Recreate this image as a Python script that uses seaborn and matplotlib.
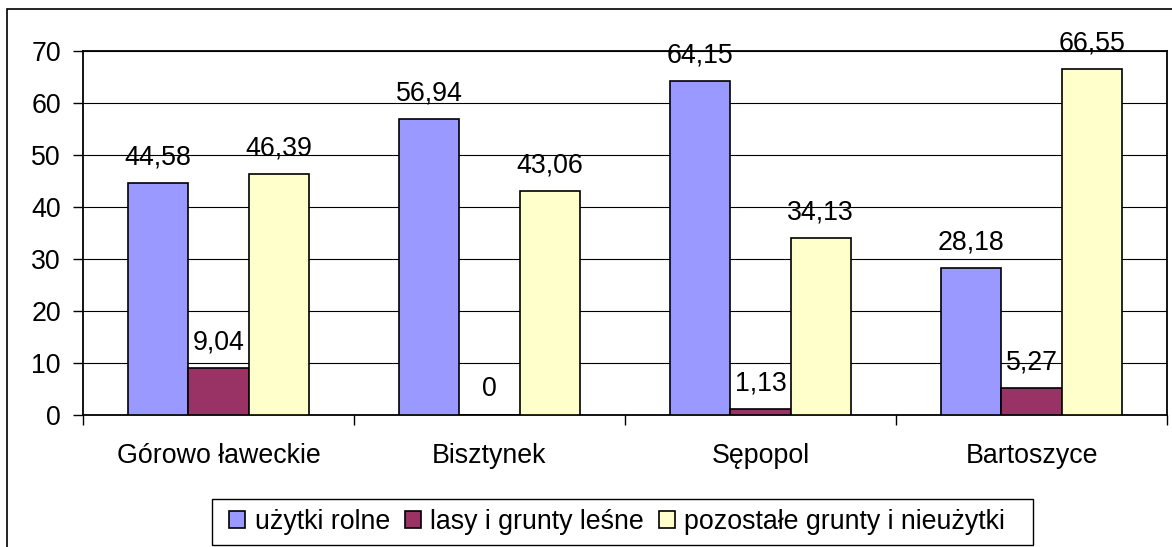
import seaborn as sns
import matplotlib.pyplot as plt
import matplotlib.patches as mpatches
import pandas as pd
import numpy as np

# Data
gminy = ["Górowo ławeckie", "Bisztynek", "Sępopol", "Bartoszyce"]
uzytki_rolne = [44.58, 56.94, 64.15, 28.18]
lasy = [9.04, 0.0, 1.13, 5.27]
pozostale = [46.39, 43.06, 34.13, 66.55]
series = ["użytki rolne", "lasy i grunty leśne", "pozostałe grunty i nieużytki"]
colors = ["#9999FF", "#993366", "#FFFFCC"]

df = pd.DataFrame({
    "gmina": np.tile(gminy, 3),
    "seria": np.repeat(series, len(gminy)),
    "wartosc": uzytki_rolne + lasy + pozostale,
})

# Styling
sns.set_style("white")
plt.rcParams["font.family"] = ["Liberation Sans", "DejaVu Sans"]
plt.rcParams["text.color"] = "black"
plt.rcParams["xtick.color"] = "black"
plt.rcParams["ytick.color"] = "black"
fs = 19.3

W, H = 1172, 547
fig = plt.figure(figsize=(W / 100, H / 100), dpi=100)
ax = fig.add_axes([83 / W, 1 - 415 / H, (1167 - 83) / W, (415 - 51) / H])

sns.barplot(
    data=df, x="gmina", y="wartosc", hue="seria",
    order=gminy, hue_order=series, palette=colors,
    width=2 / 3, gap=0, edgecolor="black", linewidth=1.2,
    saturation=1, ax=ax, legend=False, zorder=3,
)

# Data labels with decimal comma
for cont in ax.containers:
    for bar in cont:
        h = bar.get_height()
        txt = f"{h:.2f}".replace(".", ",") if h != 0 else "0"
        ax.annotate(txt, (bar.get_x() + bar.get_width() / 2, h),
                    xytext=(0, 9), textcoords="offset points",
                    ha="center", va="bottom", fontsize=fs, color="black", zorder=4)

ax.set_ylim(0, 70)
ax.set_xlim(-0.5, 3.5)
ax.set_yticks(range(0, 71, 10))
ax.yaxis.grid(True, color="black", linewidth=0.8, zorder=0)
ax.set_axisbelow(True)
ax.set_xlabel("")
ax.set_ylabel("")
ax.tick_params(axis="y", labelsize=fs, length=7, width=1, direction="out",
               left=True, pad=9, colors="black")
ax.tick_params(axis="x", labelsize=fs, length=0, pad=20, colors="black")
ax.set_xticks(np.arange(-0.5, 4, 1), minor=True)
ax.tick_params(axis="x", which="minor", length=7, width=1, direction="out",
               bottom=True, colors="black")
for s in ax.spines.values():
    s.set_color("black")
    s.set_linewidth(1.3)

# Legend (frame drawn separately to match the reference box)
handles = [mpatches.Patch(facecolor=c, edgecolor="black", linewidth=1.2, label=s)
           for c, s in zip(colors, series)]
fig.legend(handles=handles, loc="center left", ncol=3,
           bbox_to_anchor=(216 / W, 1 - 522 / H),
           fontsize=fs, frameon=False, labelcolor="black",
           handlelength=0.6, handleheight=0.6, handletextpad=0.35,
           columnspacing=0.55, borderpad=0.0)
fig.add_artist(mpatches.Rectangle((212 / W, 1 - 545 / H), (1033 - 212) / W, 46 / H,
                                  transform=fig.transFigure, fill=False,
                                  edgecolor="black", linewidth=1.0))

# Outer chart-area border
fig.add_artist(mpatches.Rectangle((7 / W, -0.05), 1.1, 1 - 9 / H + 0.05,
                                  transform=fig.transFigure, fill=False,
                                  edgecolor="black", linewidth=1.2))

fig.savefig("out.png", dpi=100)
plt.close(fig)
